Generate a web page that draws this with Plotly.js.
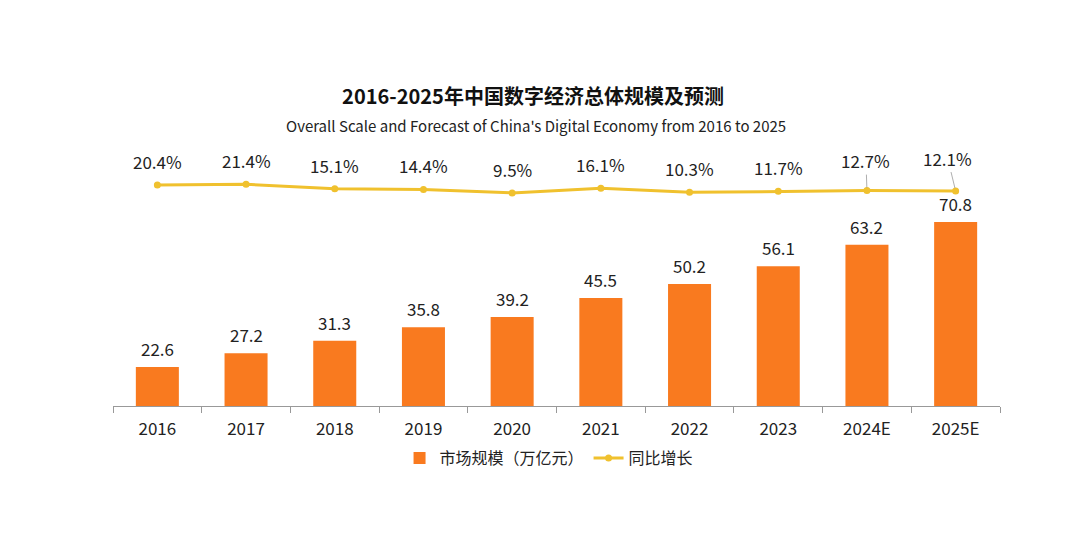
<!DOCTYPE html>
<html>
<head>
<meta charset="utf-8">
<script src="https://cdn.plot.ly/plotly-3.0.1.min.js"></script>
<style>html,body{margin:0;padding:0;background:#fff;}#chart{width:1080px;height:536px;}</style>
</head>
<body>
<div id="chart"></div>
<script>
const years = ['2016','2017','2018','2019','2020','2021','2022','2023','2024E','2025E'];
const marketSize = [22.6, 27.2, 31.3, 35.8, 39.2, 45.5, 50.2, 56.1, 63.2, 70.8];
const growth = [20.4, 21.4, 15.1, 14.4, 9.5, 16.1, 10.3, 11.7, 12.7, 12.1];
const growthLabels = ['20.4%','21.4%','15.1%','14.4%','9.5%','16.1%','10.3%','11.7%','12.7%','12.1%'];
const seriesNames = ['市场规模（万亿元）', '同比增长'];
const titleText = '2016-2025年中国数字经济总体规模及预测';
const subtitleText = "Overall Scale and Forecast of China's Digital Economy from 2016 to 2025";

const FONT = '"Noto Sans CJK SC", "Noto Sans", sans-serif';
const BAR_COLOR = '#F97A1F';
const LINE_COLOR = '#F0C12E';
const TEXT = '#222';

const traces = [
  {
    type: 'bar', name: seriesNames[0], x: years, y: marketSize,
    marker: {color: BAR_COLOR}, yaxis: 'y', hoverinfo: 'x+y'
  },
  {
    type: 'scatter', mode: 'lines+markers', name: seriesNames[1], x: years, y: growth,
    yaxis: 'y2', line: {color: LINE_COLOR, width: 3}, marker: {color: LINE_COLOR, size: 7}
  }
];

const annotations = [];
marketSize.forEach((v, i) => {
  annotations.push({
    x: i, y: v, xref: 'x', yref: 'y', text: v.toFixed(1),
    showarrow: false, yanchor: 'bottom', yshift: 4,
    font: {family: FONT, size: 17, color: TEXT}
  });
});
growth.forEach((v, i) => {
  const a = {
    x: i, y: v, xref: 'x', yref: 'y2', text: growthLabels[i],
    font: {family: FONT, size: 17, color: TEXT}
  };
  if (i === 8) {
    Object.assign(a, {showarrow: true, ax: -1, ay: -30, arrowhead: 0, arrowwidth: 0.8, arrowcolor: '#999', standoff: 3});
  } else if (i === 9) {
    Object.assign(a, {showarrow: true, ax: -8, ay: -33, arrowhead: 0, arrowwidth: 0.8, arrowcolor: '#999', standoff: 3});
  } else {
    Object.assign(a, {showarrow: false, yanchor: 'bottom', yshift: 9});
  }
  annotations.push(a);
});
annotations.push({
  text: subtitleText, xref: 'paper', yref: 'paper', x: (536-113)/887, y: (406-126)/276,
  xanchor: 'center', yanchor: 'middle', showarrow: false,
  font: {family: FONT, size: 15, color: TEXT}
});

const layout = {
  width: 1080, height: 536,
  margin: {l: 113, r: 80, t: 130, b: 130},
  paper_bgcolor: '#fff', plot_bgcolor: '#fff',
  font: {family: FONT, color: TEXT},
  title: {
    text: '<b>' + titleText + '</b>', x: 533/1080, xanchor: 'center',
    y: 1 - 97/536, yanchor: 'middle', yref: 'container',
    font: {family: FONT, size: 20, color: '#111'}
  },
  xaxis: {
    type: 'category', range: [-0.5, 9.5], showline: true, linecolor: '#999', linewidth: 1,
    ticks: 'outside', tickson: 'boundaries', ticklen: 6, tickcolor: '#999',
    showgrid: false, zeroline: false, tickangle: 0, ticklabelstandoff: 8,
    tickfont: {family: FONT, size: 17, color: TEXT}
  },
  yaxis: {
    range: [9.63, 9.63 + 276/3.008], visible: false, showgrid: false, zeroline: false, fixedrange: true
  },
  yaxis2: {
    overlaying: 'y', side: 'right', visible: false, showgrid: false, zeroline: false,
    range: [20.4 - 221/0.73, 20.4 - 221/0.73 + 276/0.73]
  },
  bargap: 0.515,
  showlegend: true,
  legend: {
    orientation: 'h', x: 0.4916, xanchor: 'center', y: (406-458)/276, yanchor: 'middle',
    font: {family: FONT, size: 16, color: TEXT}, traceorder: 'normal'
  },
  annotations: annotations
};

Plotly.newPlot('chart', traces, layout, {displayModeBar: false, staticPlot: true});
</script>
</body>
</html>
